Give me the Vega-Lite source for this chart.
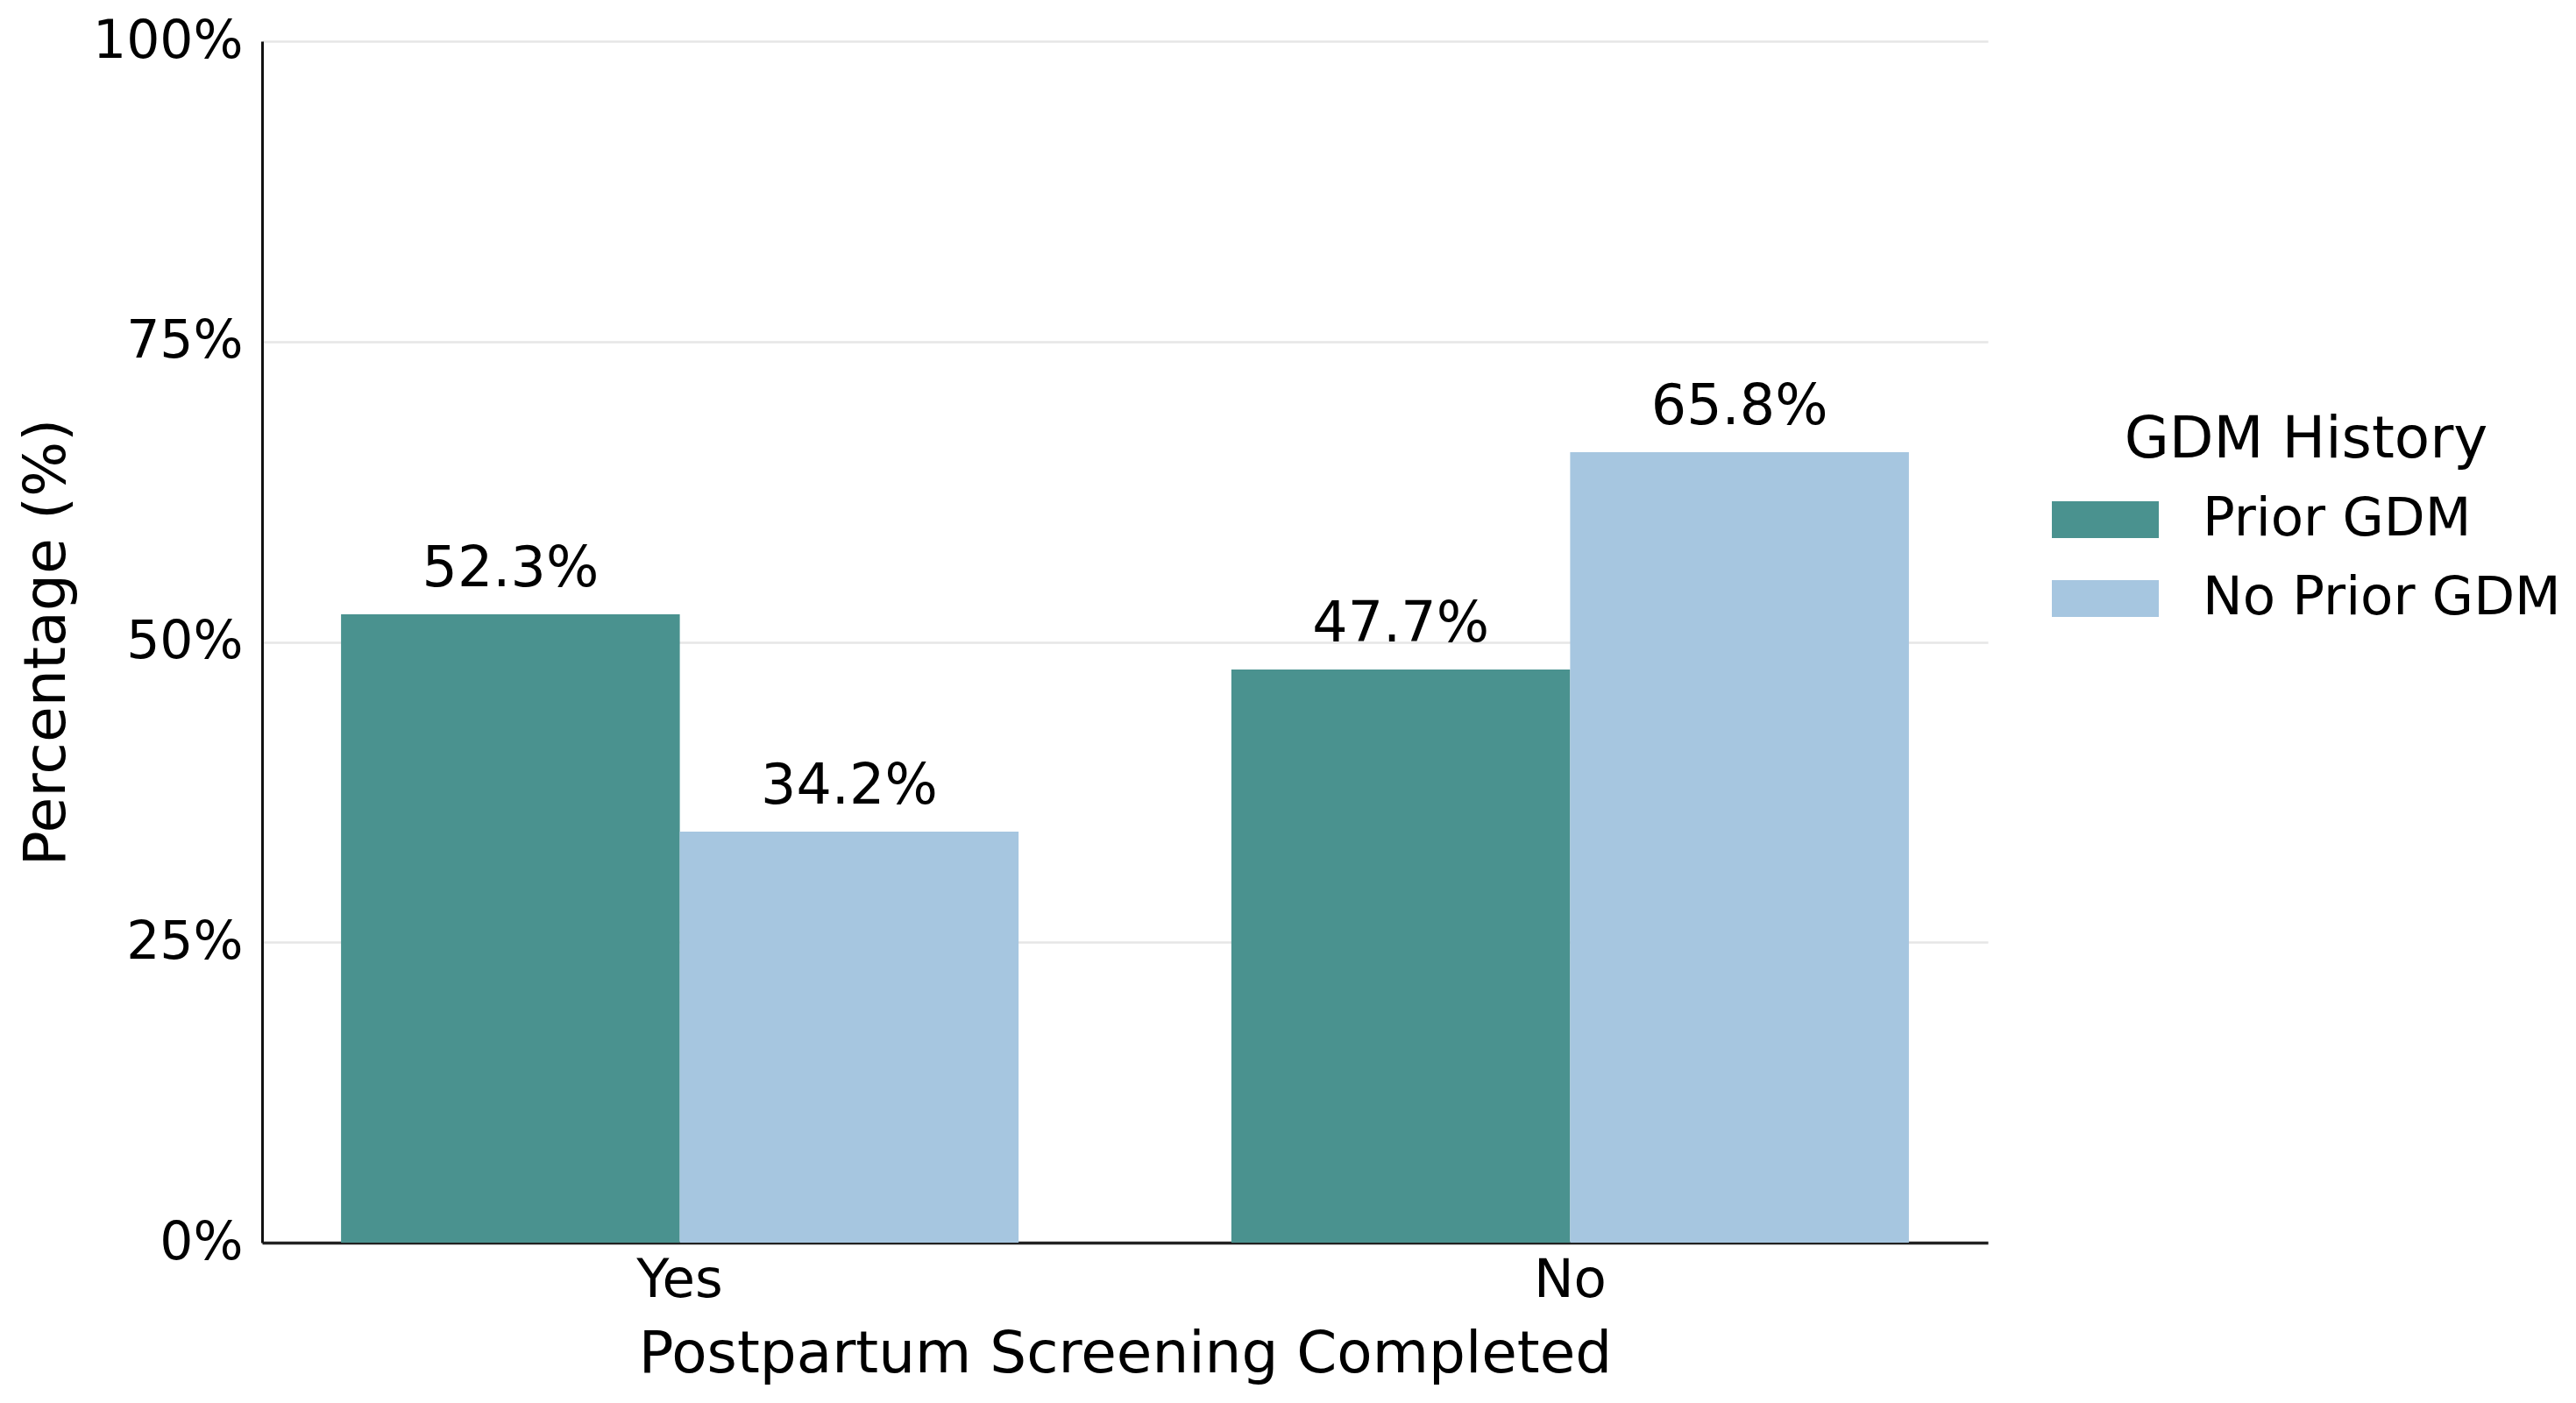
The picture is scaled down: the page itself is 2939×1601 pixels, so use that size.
{
  "$schema": "https://vega.github.io/schema/vega-lite/v6.json",
  "width": 1969,
  "height": 1371,
  "autosize": {"type": "none"},
  "padding": {"left": 299, "top": 47, "right": 671, "bottom": 183},
  "background": "white",
  "config": {
    "font": "DejaVu Sans",
    "view": {"stroke": null},
    "axis": {"labelFont": "DejaVu Sans", "titleFont": "DejaVu Sans", "labelColor": "black", "titleColor": "black", "titleFontWeight": "normal"},
    "legend": {"labelFont": "DejaVu Sans", "titleFont": "DejaVu Sans"}
  },
  "data": {
    "values": [
      {"screening": "Yes", "group": "Prior GDM", "pct": 0.523},
      {"screening": "Yes", "group": "No Prior GDM", "pct": 0.342},
      {"screening": "No", "group": "Prior GDM", "pct": 0.477},
      {"screening": "No", "group": "No Prior GDM", "pct": 0.658}
    ]
  },
  "encoding": {
    "x": {
      "field": "screening", "type": "nominal", "sort": ["Yes", "No"],
      "scale": {"paddingInner": 0.239, "paddingOuter": 0.0887},
      "axis": {
        "title": "Postpartum Screening Completed", "labelAngle": 0,
        "labelFontSize": 61, "titleFontSize": 66, "ticks": false, "tickSize": 0,
        "labelPadding": 13, "titlePadding": 22,
        "domainColor": "#222222", "domainWidth": 3.5, "grid": false
      }
    },
    "xOffset": {"field": "group", "type": "nominal", "sort": ["Prior GDM", "No Prior GDM"], "scale": {"paddingInner": 0, "paddingOuter": 0}},
    "y": {
      "field": "pct", "type": "quantitative",
      "scale": {"domain": [0, 1], "nice": false},
      "axis": {
        "title": "Percentage (%)", "format": ".0%", "values": [0, 0.25, 0.5, 0.75, 1],
        "labelFontSize": 60, "titleFontSize": 66.5, "ticks": false, "tickSize": 0,
        "labelPadding": 22, "titlePadding": 18,
        "domainColor": "#111111", "domainWidth": 3,
        "grid": true, "gridColor": "#e6e6e6", "gridWidth": 2.5
      }
    }
  },
  "layer": [
    {
      "mark": {"type": "bar"},
      "encoding": {
        "color": {
          "field": "group", "type": "nominal", "sort": ["Prior GDM", "No Prior GDM"],
          "scale": {"domain": ["Prior GDM", "No Prior GDM"], "range": ["#4a928f", "#a6c6e0"]},
          "legend": {
            "title": "GDM History", "orient": "none", "legendX": 2042, "legendY": 423,
            "titleFontSize": 66, "titleFontWeight": "normal", "titleAnchor": "middle", "titleColor": "black",
            "titleLimit": 1000, "labelLimit": 1000,
            "labelFontSize": 61, "labelColor": "black", "labelOffset": 50,
            "symbolType": "M-1,-0.344H1V0.344H-1Z", "symbolSize": 14884, "symbolStrokeWidth": 0,
            "clipHeight": 90, "rowPadding": 0, "titlePadding": 12
          }
        }
      }
    },
    {
      "mark": {"type": "text", "baseline": "alphabetic", "dy": -32, "fontSize": 63.5, "color": "black"},
      "encoding": {
        "text": {"field": "pct", "type": "quantitative", "format": ".1%"}
      }
    }
  ]
}
